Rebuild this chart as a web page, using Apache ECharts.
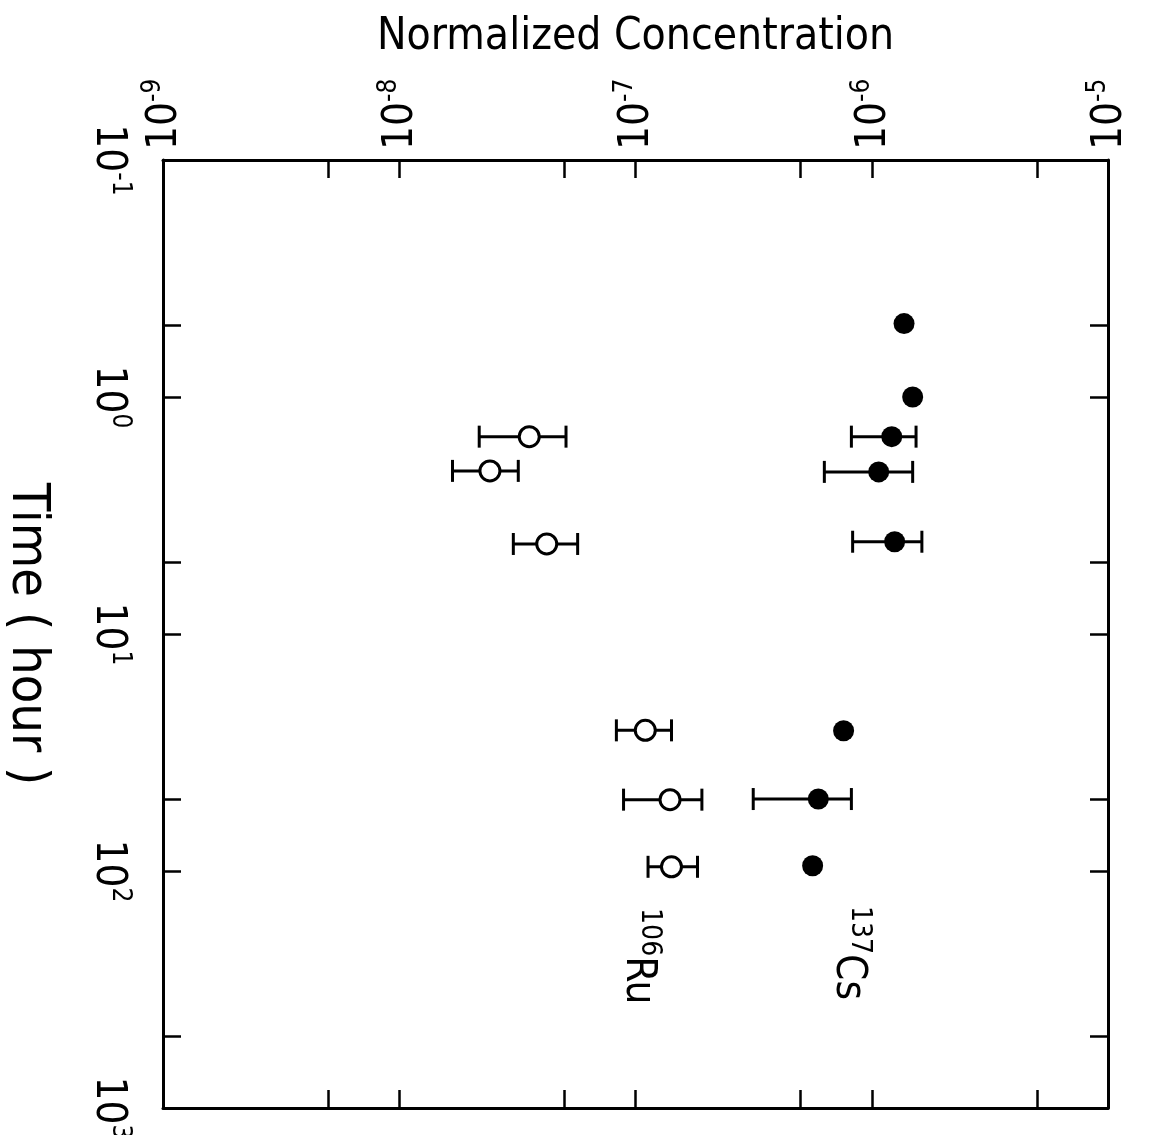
<!DOCTYPE html>
<html>
<head>
<meta charset="utf-8">
<script src="https://cdn.jsdelivr.net/npm/echarts@6/dist/echarts.min.js"></script>
<style>
  html, body { margin: 0; padding: 0; background: #fff; }
  #chart { width: 1156px; height: 1135px; }
</style>
</head>
<body>
<div id="chart"></div>
<script>
var myChart = echarts.init(document.getElementById('chart'));

// 137Cs (filled dots): time in hours, normalized concentration, error bar ends (null = no bar)
var csTime = [0.49, 1.0, 1.47, 2.07, 4.08, 25.6, 49.7, 95];
var csConc = [1.37e-6, 1.49e-6, 1.215e-6, 1.07e-6, 1.25e-6, 7.6e-7, 5.94e-7, 5.62e-7];
var csLow  = [null, null, 8.2e-7, 6.3e-7, 8.3e-7, null, 3.15e-7, null];
var csHigh = [null, null, 1.54e-6, 1.49e-6, 1.63e-6, null, 8.2e-7, null];

// 106Ru (open circles)
var ruTime = [1.47, 2.05, 4.17, 25.5, 50, 96];
var ruConc = [3.55e-8, 2.42e-8, 4.21e-8, 1.1e-7, 1.4e-7, 1.42e-7];
var ruLow  = [2.18e-8, 1.68e-8, 3.04e-8, 8.3e-8, 8.9e-8, 1.13e-7];
var ruHigh = [5.08e-8, 3.19e-8, 5.69e-8, 1.42e-7, 1.91e-7, 1.83e-7];

// isotope tags written next to the series
var tagNames = [['137', 'Cs'], ['106', 'Ru']];
var tagConc = [8.1e-7, 1.045e-7];
var tagTime = [222, 229];

// axis ticks (decades plus the 5x marks)
var concTicks = [1e-9, 5e-9, 1e-8, 5e-8, 1e-7, 5e-7, 1e-6, 5e-6, 1e-5];
var timeTicks = [0.1, 0.5, 1, 5, 10, 50, 100, 500, 1000];

var lg = function (v) { return Math.log10(v); };

var font = "'Liberation Sans Narrow', 'DejaVu Sans Condensed', 'Liberation Sans', sans-serif";

function points(times, concs) {
  return times.map(function (t, i) { return [lg(concs[i]), lg(t)]; });
}
function bars(times, lows, highs) {
  var out = [];
  times.forEach(function (t, i) {
    if (lows[i] != null) out.push([lg(lows[i]), lg(highs[i]), lg(t)]);
  });
  return out;
}

var powRich = {
  b: { fontSize: 42, fontFamily: font, color: '#000', verticalAlign: 'bottom', lineHeight: 46 },
  s: { fontSize: 26, fontFamily: font, color: '#000', verticalAlign: 'top', lineHeight: 46 }
};
function powLabel(v) {
  return '{b|10}{s|' + Math.round(v) + '}';
}

function errorBar(params, api) {
  var a = api.coord([api.value(0), api.value(2)]);
  var b = api.coord([api.value(1), api.value(2)]);
  var h = 11;
  var st = { stroke: '#000', lineWidth: 3 };
  return {
    type: 'group',
    children: [
      { type: 'line', shape: { x1: a[0], y1: a[1], x2: b[0], y2: b[1] }, style: st },
      { type: 'line', shape: { x1: a[0], y1: a[1] - h, x2: a[0], y2: a[1] + h }, style: st },
      { type: 'line', shape: { x1: b[0], y1: b[1] - h, x2: b[0], y2: b[1] + h }, style: st }
    ]
  };
}

var axisLine = { show: true, onZero: false, lineStyle: { color: '#000', width: 3 } };
var tickStyle = { lineStyle: { color: '#000', width: 2.5 } };

var option = {
  backgroundColor: '#fff',
  animation: false,
  grid: { left: 163, top: 160, right: 48, bottom: 27, containLabel: false, outerBoundsMode: 'none' },
  xAxis: [
    {
      type: 'value',
      position: 'top',
      min: -9,
      max: -5,
      interval: 1,
      name: 'Normalized Concentration',
      nameLocation: 'middle',
      nameGap: 100,
      nameTextStyle: { fontSize: 44, fontFamily: font, color: '#000' },
      axisLine: axisLine,
      axisTick: Object.assign({ show: true, inside: true, length: 18, customValues: concTicks.map(lg) }, tickStyle),
      axisLabel: { rotate: -90, margin: 10, formatter: powLabel, rich: powRich },
      splitLine: { show: false }
    },
    {
      type: 'value',
      position: 'bottom',
      min: -9,
      max: -5,
      interval: 1,
      axisLine: axisLine,
      axisTick: Object.assign({ show: true, inside: true, length: 18, customValues: concTicks.map(lg) }, tickStyle),
      axisLabel: { show: false },
      splitLine: { show: false }
    }
  ],
  yAxis: [
    {
      type: 'value',
      position: 'left',
      inverse: true,
      min: -1,
      max: 3,
      interval: 1,
      name: 'Time ( hour )',
      nameLocation: 'middle',
      nameRotate: -90,
      nameGap: 110,
      nameTextStyle: { fontSize: 52, fontFamily: font, color: '#000' },
      axisLine: axisLine,
      axisTick: Object.assign({ show: true, inside: true, length: 18, customValues: timeTicks.map(lg) }, tickStyle),
      axisLabel: { rotate: -90, margin: 30, formatter: powLabel, rich: powRich },
      splitLine: { show: false }
    },
    {
      type: 'value',
      position: 'right',
      inverse: true,
      min: -1,
      max: 3,
      interval: 1,
      axisLine: axisLine,
      axisTick: Object.assign({ show: true, inside: true, length: 18, customValues: timeTicks.map(lg) }, tickStyle),
      axisLabel: { show: false },
      splitLine: { show: false }
    }
  ],
  series: [
    {
      name: 'Cs err',
      type: 'custom',
      renderItem: errorBar,
      data: bars(csTime, csLow, csHigh),
      z: 2
    },
    {
      name: 'Ru err',
      type: 'custom',
      renderItem: errorBar,
      data: bars(ruTime, ruLow, ruHigh),
      z: 2
    },
    {
      name: '137Cs',
      type: 'scatter',
      symbol: 'circle',
      symbolSize: 21,
      itemStyle: { color: '#000', opacity: 1 },
      data: points(csTime, csConc),
      z: 3
    },
    {
      name: '106Ru',
      type: 'scatter',
      symbol: 'circle',
      symbolSize: 20,
      itemStyle: { color: '#fff', borderColor: '#000', borderWidth: 3, opacity: 1 },
      data: points(ruTime, ruConc),
      z: 3
    },
    {
      name: 'tags',
      type: 'scatter',
      symbolSize: 0,
      silent: true,
      itemStyle: { opacity: 1 },
      data: tagNames.map(function (n, i) {
        return { value: [lg(tagConc[i]), lg(tagTime[i])], name: n[0] + '|' + n[1] };
      }),
      label: {
        show: true,
        position: 'inside',
        rotate: -90,
        color: '#000',
        formatter: function (p) {
          var parts = p.name.split('|');
          return '{s|' + parts[0] + '}{b|' + parts[1] + '}';
        },
        rich: {
          b: { fontSize: 42, fontFamily: font, color: '#000', verticalAlign: 'bottom', lineHeight: 46 },
          s: { fontSize: 28, fontFamily: font, color: '#000', verticalAlign: 'top', lineHeight: 46 }
        }
      },
      z: 4
    }
  ]
};

myChart.setOption(option);
</script>
</body>
</html>
